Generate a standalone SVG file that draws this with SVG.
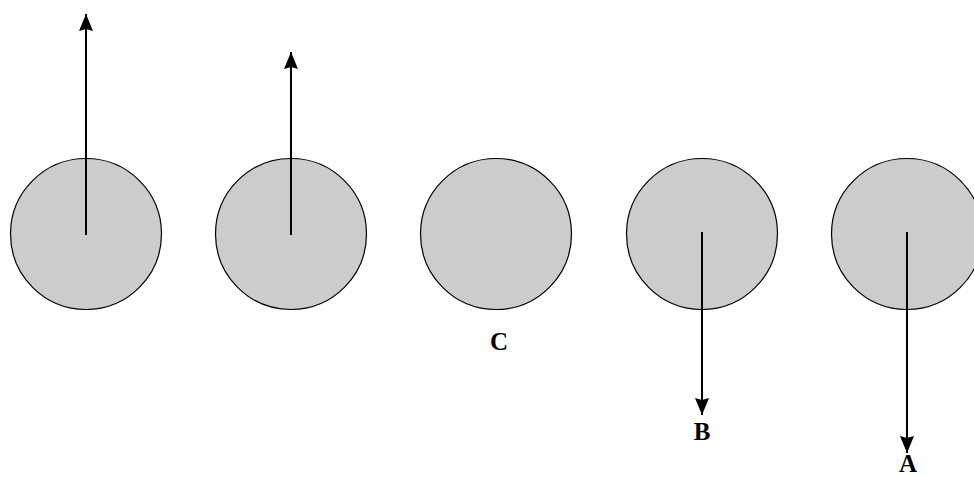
<svg xmlns="http://www.w3.org/2000/svg" width="974" height="477" viewBox="0 0 974 477">
<defs>
<style>
.ball{fill:#cccccc;stroke:#000;stroke-width:1.2}
.vec{stroke:#000;stroke-width:2;fill:none;marker-end:url(#ah)}
.lbl{font-family:"Liberation Serif","DejaVu Serif",serif;font-weight:bold;font-size:25px;text-anchor:middle;fill:#000}
</style>
<marker id="ah" markerUnits="userSpaceOnUse" markerWidth="17" markerHeight="18" viewBox="0 0 17 18" refX="17" refY="9" orient="auto">
<path d="M0,2 L17,9 L0,16 L2,9 Z" fill="#000"/>
</marker>
</defs>
<rect width="974" height="477" fill="#fff"/>
<g id="ball1"><circle class="ball" cx="86" cy="234" r="75.5"/></g>
<g id="ball2"><circle class="ball" cx="291" cy="234" r="75.5"/></g>
<g id="ball3"><circle class="ball" cx="496" cy="234" r="75.5"/><text class="lbl" x="499" y="350">C</text></g>
<g id="ball4"><circle class="ball" cx="702" cy="234" r="75.5"/><text class="lbl" x="702" y="440">B</text></g>
<g id="ball5"><circle class="ball" cx="907" cy="234" r="75.5"/><text class="lbl" x="908" y="472">A</text></g>
<g id="connectors">
<line class="vec" x1="86" y1="235" x2="86" y2="14"/>
<line class="vec" x1="291" y1="235" x2="291" y2="52"/>
<line class="vec" x1="702" y1="232" x2="702" y2="415"/>
<line class="vec" x1="907" y1="232" x2="907" y2="453"/>
</g>
</svg>
